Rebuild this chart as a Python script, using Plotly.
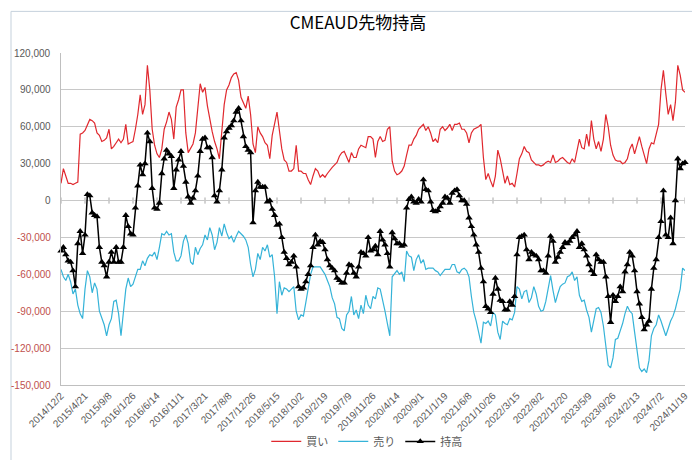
import pandas as pd
import plotly.graph_objects as go

# ---- data (thousands of contracts), one value every two weeks from 2014/12/2 ----
start_date = "2014-12-02"
step_days = 14

buy = [
    14, 26, 20, 14, 14, 13, 14, 15, 54, 55,
    57, 61, 66, 65, 63, 55, 53, 48, 49, 51,
    58, 42, 44, 47, 50, 47, 50, 62, 46, 47,
    48, 58, 70, 86, 70, 78, 110, 90, 58, 45,
    38, 35, 42, 58, 64, 72, 66, 50, 76, 82,
    90, 90, 55, 39, 42, 46, 55, 75, 95, 88,
    92, 77, 66, 56, 48, 42, 34, 60, 78, 90,
    94, 100, 103, 104, 98, 84, 80, 75, 85, 70,
    46, 39, 60, 55, 52, 47, 45, 34, 53, 62,
    72, 57, 42, 33, 31, 24, 24, 26, 45, 24,
    24, 22, 22, 17, 13, 20, 26, 24, 19, 21,
    19, 22, 25, 27, 29, 31, 36, 39, 40, 35,
    31, 39, 35, 35, 42, 45, 44, 43, 52, 52,
    50, 35, 48, 52, 48, 49, 58, 60, 32, 24,
    21, 22, 24, 28, 37, 45, 45, 50, 53, 58,
    60, 62, 57, 60, 55, 48, 50, 47, 58, 60,
    57, 59, 62, 57, 62, 62, 63, 58, 58, 55,
    47, 55, 58, 59, 60, 62, 35, 17, 22, 16,
    11, 20, 41, 34, 24, 14, 20, 13, 14, 11,
    22, 34, 38, 44, 40, 39, 33, 31, 29, 29,
    28, 29, 31, 32, 31, 37, 31, 32, 34, 35,
    33, 31, 30, 34, 31, 41, 50, 43, 42, 54,
    44, 65, 50, 42, 48, 40, 50, 70, 60, 45,
    37, 33, 32, 32, 30, 31, 34, 42, 46, 38,
    45, 52, 44, 36, 30, 42, 47, 46, 54, 62,
    90, 106, 87, 70, 78, 65, 80, 110, 102, 90,
    88,
]

sell = [
    -56, -62, -65, -60, -66, -76, -72, -85, -92, -96,
    -72, -57, -62, -75, -67, -72, -90, -96, -101, -110,
    -101, -96, -82, -81, -92, -110, -88, -72, -63, -70,
    -68, -62, -56, -56, -49, -53, -47, -44, -45, -42,
    -48, -38, -27, -28, -25, -28, -27, -42, -49, -49,
    -45, -33, -28, -35, -50, -52, -38, -44, -39, -36,
    -28, -32, -22, -28, -40, -34, -22, -29, -19, -26,
    -31, -29, -34, -29, -25, -27, -29, -32, -38, -52,
    -62, -56, -43, -48, -38, -41, -36, -46, -44, -62,
    -92, -66, -77, -71, -72, -74, -72, -70, -90, -97,
    -93, -94, -83, -72, -60, -54, -54, -54, -54, -57,
    -60, -65, -70, -79, -84, -95, -96, -104, -106, -93,
    -90, -78, -93, -89, -96, -85, -92, -77, -85, -88,
    -78, -80, -71, -72, -80, -90, -100, -110, -62, -59,
    -57, -60, -58, -66, -41, -45, -46, -57, -48, -44,
    -51, -48, -56, -55, -55, -55, -57, -58, -61, -58,
    -56, -56, -56, -52, -52, -58, -59, -56, -55, -57,
    -62, -78, -91, -98, -107, -116, -99, -100, -98, -102,
    -91, -93, -107, -113, -98, -100, -101, -96, -97, -91,
    -70, -72, -80, -74, -73, -83, -79, -70, -76, -86,
    -90, -89, -82, -71, -61, -73, -83, -76, -70, -68,
    -67, -62, -61, -58, -65, -62, -77, -82, -81, -89,
    -95, -107, -98, -88, -87, -91, -102, -118, -134, -136,
    -128, -113, -112, -106, -100, -92, -86, -90, -92, -107,
    -122, -136, -139, -137, -140, -130, -110, -104, -101, -93,
    -98, -104, -110, -104, -98, -94, -88, -80, -72, -55,
    -57,
]

net = [
    -41, -38, -44, -49, -50, -57, -70, -35, -25, -43,
    -28, 5, 4, -10, -12, -13, -38, -50, -53, -62,
    -50, -42, -50, -38, -50, -50, -38, -12, -21, -27,
    -28, -6, 12, 29, 21, 30, 55, 48, 10, -6,
    -7, -2, 22, 34, 41, 38, 36, 10, 25, 33,
    40, 28, 15, 3, -2, 2, 8, 20, 40, 50,
    51, 43, 43, 35, 4, -1, 8, 25, 51, 56,
    59, 61, 65, 72, 75, 65, 52, 44, 41, 39,
    -18, 8, 15, 11, 11, 11, -1, 0, -7, -12,
    -20, -19, -30, -42, -47, -52, -50, -45, -54, -70,
    -72, -71, -66, -60, -53, -38, -28, -36, -33, -34,
    -40, -48, -53, -55, -57, -63, -65, -67, -67, -59,
    -52, -53, -59, -62, -54, -42, -43, -45, -30, -41,
    -40, -37, -44, -25, -32, -36, -43, -54, -26, -31,
    -35, -35, -37, -36, -6, 1, 3, -1, -2, 1,
    -1, 17, 9, 8, -1, -8, -9, -8, -5, -2,
    3, 2, -2, 6, 8, 9, 4, 0, 0, -3,
    -14, -21, -28, -36, -42, -55, -66, -86, -88, -91,
    -76, -63, -72, -81, -82, -89, -89, -82, -85, -78,
    -44, -30, -29, -28, -40, -48, -42, -44, -45, -48,
    -57, -57, -59, -45, -29, -33, -50, -46, -42, -38,
    -34, -35, -33, -30, -28, -25, -38, -35, -40, -45,
    -52, -57, -60, -44, -48, -50, -50, -62, -78, -99,
    -77, -82, -78, -70, -74, -58, -52, -42, -45, -57,
    -74, -84, -95, -105, -101, -98, -72, -55, -48, -30,
    -17, 8, -28, -30, -14, -35, 0, 34, 26, 30,
    31,
]

x_labels = [
    "2014/12/2", "2015/4/21", "2015/9/8", "2016/1/26", "2016/6/14", "2016/11/1",
    "2017/3/21", "2017/8/8", "2017/12/26", "2018/5/15", "2018/10/2", "2019/2/19",
    "2019/7/9", "2019/11/26", "2020/4/14", "2020/9/1", "2021/1/19", "2021/6/8",
    "2021/10/26", "2022/3/15", "2022/8/2", "2022/12/20", "2023/5/9", "2023/9/26",
    "2024/2/13", "2024/7/2", "2024/11/19",
]

y_ticks = [120000, 90000, 60000, 30000, 0, -30000, -60000, -90000, -120000, -150000]

series_names = ["買い", "売り", "持高"]

# ---- build ----
t0 = pd.Timestamp(start_date)


def dates_for(values):
    return [t0 + pd.Timedelta(days=step_days * i) for i in range(len(values))]


tick_dates = [pd.to_datetime(s, format="%Y/%m/%d") for s in x_labels]

fig = go.Figure()
fig.add_trace(go.Scatter(
    x=dates_for(buy), y=[v * 1000 for v in buy], name=series_names[0],
    mode="lines", line=dict(color="#E0282E", width=1.2),
))
fig.add_trace(go.Scatter(
    x=dates_for(sell), y=[v * 1000 for v in sell], name=series_names[1],
    mode="lines", line=dict(color="#35B3D8", width=1.2),
))
fig.add_trace(go.Scatter(
    x=dates_for(net), y=[v * 1000 for v in net], name=series_names[2],
    mode="lines+markers", line=dict(color="#000000", width=1.5),
    marker=dict(symbol="triangle-up", size=6.5, color="#000000"),
    cliponaxis=False,
))

PL, PR, PT, PB = 53, 23, 45, 80
W, H = 700, 460
pw, ph = W - PL - PR, H - PT - PB

annotations = []
for v in y_ticks:
    txt = f"{v:,}"
    annotations.append(dict(
        x=-8 / pw, xref="paper", y=v, yref="y", text=txt, showarrow=False,
        xanchor="right", yanchor="middle",
        font=dict(family="Liberation Sans, Arial", size=10,
                  color="#C0504D" if v < 0 else "#595959"),
    ))

shapes = [
    # chart-area border
    dict(type="rect", xref="paper", yref="paper",
         x0=(3 - PL) / pw, x1=(696 - PL) / pw,
         y0=(H - PB - 457) / ph, y1=(H - PB - 3) / ph,
         line=dict(color="#C5D1DC", width=1), fillcolor="rgba(0,0,0,0)", layer="below"),
]
for d in tick_dates:
    shapes.append(dict(type="line", xref="x", yref="y", x0=d, x1=d, y0=-2500, y1=2500,
                       line=dict(color="#A6A6A6", width=1), layer="below"))

fig.update_layout(
    width=W, height=H,
    margin=dict(l=PL, r=PR, t=PT, b=PB),
    paper_bgcolor="white", plot_bgcolor="white",
    title=dict(text="CMEAUD先物持高", x=0.5, xanchor="center", xref="container",
               y=1 - 15 / H, yanchor="middle", yref="container",
               font=dict(family="Noto Sans CJK JP", size=17, color="#000000")),
    xaxis=dict(type="date", range=[t0, tick_dates[-1]],
               tickvals=tick_dates, ticktext=x_labels, tickangle=-45,
               tickfont=dict(family="Liberation Sans, Arial", size=10, color="#595959"),
               showgrid=False, zeroline=False, ticks="",
               showline=True, linecolor="#BFBFBF", linewidth=1),
    yaxis=dict(range=[-150000, 120000], tickvals=y_ticks, showticklabels=False,
               showgrid=True, gridcolor="#C8C8C8", gridwidth=1, zeroline=False,
               showline=True, linecolor="#BFBFBF", linewidth=1, ticks=""),
    legend=dict(orientation="h", x=0.49, xanchor="center", y=-0.17, yanchor="middle",
                font=dict(family="Noto Sans CJK JP", size=11, color="#595959"),
                itemwidth=30, bgcolor="rgba(0,0,0,0)"),
    annotations=annotations,
    shapes=shapes,
)

fig.write_html("out.html")
